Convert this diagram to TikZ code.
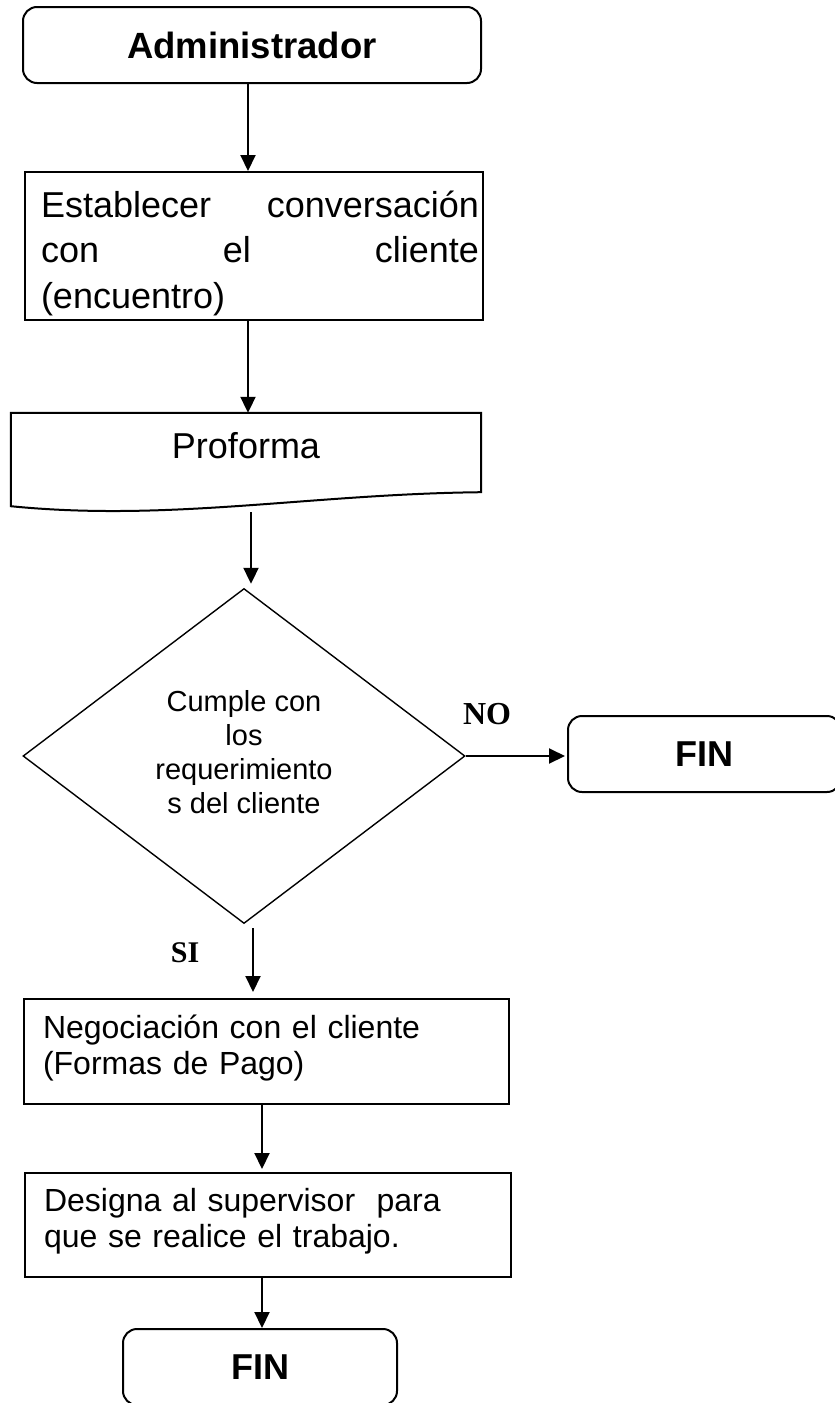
\documentclass[tikz,border=0pt]{standalone}
\usepackage{fontspec}
\setmainfont{Liberation Sans}
\newfontfamily\timesfont{Liberation Serif}
\usetikzlibrary{shapes.geometric,arrows.meta}
\begin{document}
\begin{tikzpicture}[x=1pt,y=-1pt,
  box/.style={draw, line width=2pt, rectangle, inner ysep=0pt, align=left},
  rbox/.style={draw, line width=2pt, rectangle, rounded corners=14pt, inner sep=0pt,
               minimum height=76pt, font=\fontsize{36}{40}\selectfont\bfseries},
  arr/.style={line width=2pt, -{Triangle[length=16pt,width=15pt]}},
  lbl/.style={inner sep=0pt, font=\timesfont\bfseries\fontsize{32}{32}\selectfont}]
\useasboundingbox (0,0) rectangle (835,1403);
\fill[white] (0,0) rectangle (835,1403);

% Administrador
\node[rbox, minimum width=458pt, font=\fontsize{36.5}{40}\selectfont\bfseries] (admin) at (252,45) {Administrador};

% Establecer conversacion
\node[box, text width=426pt, inner xsep=16pt, text height=45pt, text depth=103pt,
      font=\fontsize{36}{45.5}\selectfont] (estab) at (254,246)
  {\makebox[438pt][l]{Establecer\hfill conversación}\\\makebox[438pt][l]{con\hfill el\hfill cliente}\\(encuentro)};

% Proforma (document shape)
\node[inner sep=0pt, minimum width=470pt, text height=45pt, text depth=48pt,
      font=\fontsize{36}{40}\selectfont] (pf) at (246,459.5) {Proforma};
\draw[line width=2pt, line join=miter] (pf.south west) -- (pf.north west) -- (pf.north east)
  -- ([yshift=14pt]pf.south east) .. controls (310,494) and (170,522) .. (pf.south west) -- cycle;

% Decision
\node[diamond, draw, line width=1.4pt, minimum width=442pt, minimum height=335pt,
      inner sep=0pt, align=center, font=\fontsize{29}{33.5}\selectfont] (dec) at (244,756)
  {\raisebox{4pt}{\begin{tabular}{@{}c@{}}Cumple con\\[0.5pt]los\\[0.5pt]requerimiento\\[0.5pt]s del cliente\end{tabular}}};

\node[lbl] (no) at (487,714) {NO};
\node[rbox, minimum width=273pt] (finR) at (704.5,754) {FIN};
\node[lbl, font=\timesfont\bfseries\fontsize{30}{30}\selectfont] (si) at (185,953) {SI};

% Negociacion
\node[box, text width=447pt, inner xsep=19pt, text height=39pt, text depth=66pt,
      font=\fontsize{32}{36}\selectfont] (neg) at (266.5,1051.5)
  {Negociación con el cliente\\(Formas de Pago)};

% Designa
\node[box, text width=448pt, inner xsep=19pt, text height=38.5pt, text depth=65.5pt,
      font=\fontsize{32}{36}\selectfont] (des) at (268,1225)
  {Designa al supervisor~ para\\que se realice el trabajo.};

% FIN bottom
\node[rbox, minimum width=274pt] (finB) at (260,1367) {FIN};

% Connectors
\draw[arr] ([xshift=-4pt]admin.south) -- ([xshift=-4pt]admin.south |- estab.north);
\draw[arr] ([xshift=-6pt]estab.south) -- ([xshift=-6pt]estab.south |- pf.north);
\draw[arr, shorten >=4pt] ([xshift=5pt,yshift=-6pt]pf.south) -- ([xshift=5pt]pf.south |- dec.north);
\draw[arr, shorten >=2pt] (dec.east) -- (dec.east -| finR.west);
\draw[arr, shorten >=6pt] ([xshift=9pt,yshift=-4pt]dec.south) -- ([xshift=9pt]dec.south |- neg.north);
\draw[arr, shorten >=3pt] ([xshift=-4.5pt]neg.south) -- ([xshift=-4.5pt]neg.south |- des.north);
\draw[arr] ([xshift=-6pt]des.south) -- ([xshift=-6pt]des.south |- finB.north);
\end{tikzpicture}
\end{document}
